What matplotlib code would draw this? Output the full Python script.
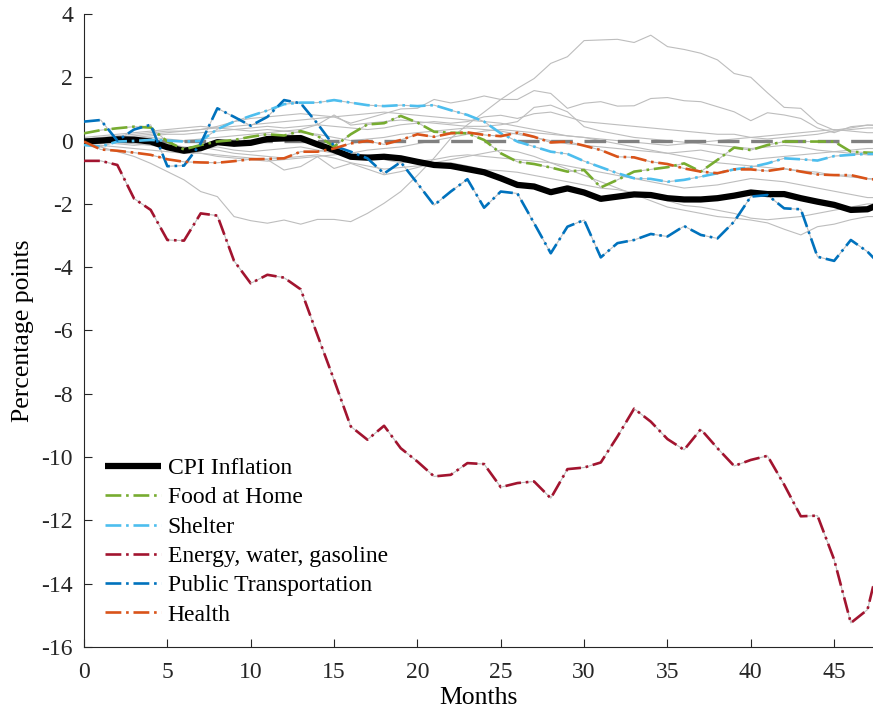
import matplotlib
matplotlib.use("Agg")
import matplotlib.pyplot as plt

plt.rcParams['font.family'] = ['Liberation Serif', 'DejaVu Serif']
plt.rcParams['axes.unicode_minus'] = False

months = list(range(49))

cpi = [-0.03, 0.0, 0.04, 0.03, -0.03, -0.21, -0.32, -0.24, -0.05, -0.10,
       -0.07, 0.05, 0.07, 0.08, -0.12, -0.30, -0.51, -0.54, -0.51, -0.56,
       -0.67, -0.77, -0.80, -0.90, -1.00, -1.19, -1.40, -1.45, -1.63, -1.51,
       -1.64, -1.84, -1.77, -1.70, -1.72, -1.82, -1.86, -1.86, -1.82, -1.74,
       -1.64, -1.69, -1.69, -1.82, -1.93, -2.03, -2.19, -2.17, -1.95]

food = [0.23, 0.33, 0.39, 0.44, 0.41, -0.03, -0.28, -0.14, -0.03, 0.02,
        0.12, 0.20, 0.16, 0.30, 0.15, -0.19, 0.20, 0.51, 0.55, 0.78,
        0.57, 0.28, 0.25, 0.23, 0.02, -0.40, -0.67, -0.74, -0.85, -0.98,
        -0.93, -1.48, -1.24, -0.98, -0.91, -0.84, -0.72, -0.98, -0.61, -0.22,
        -0.30, -0.14, -0.03, -0.03, -0.03, -0.03, -0.35, -0.38, -0.40]

shelter = [-0.14, -0.19, -0.03, -0.01, 0.02, 0.0, -0.03, -0.01, 0.36, 0.60,
           0.78, 0.95, 1.15, 1.20, 1.20, 1.28, 1.20, 1.12, 1.09, 1.12,
           1.09, 1.12, 0.96, 0.81, 0.60, 0.23, -0.03, -0.19, -0.35, -0.42,
           -0.65, -0.84, -1.03, -1.19, -1.21, -1.30, -1.24, -1.14, -1.03, -0.91,
           -0.84, -0.72, -0.56, -0.59, -0.63, -0.49, -0.45, -0.42, -0.42]

energy = [-0.64, -0.64, -0.77, -1.83, -2.19, -3.14, -3.16, -2.30, -2.37, -3.80,
          -4.51, -4.24, -4.33, -4.70, -6.14, -7.56, -9.03, -9.45, -9.01, -9.72,
          -10.14, -10.61, -10.56, -10.19, -10.22, -10.95, -10.82, -10.77, -11.30, -10.38,
          -10.33, -10.17, -9.35, -8.47, -8.88, -9.43, -9.77, -9.12, -9.72, -10.28,
          -10.09, -9.96, -10.87, -11.87, -11.85, -13.24, -15.24, -14.82, -12.65]

transport = [0.60, 0.65, 0.0, 0.35, 0.50, -0.81, -0.79, -0.09, 1.02, 0.75,
             0.47, 0.75, 1.28, 1.18, 0.54, -0.17, -0.35, -0.56, -1.04, -0.68,
             -1.35, -2.04, -1.61, -1.22, -2.12, -1.61, -1.67, -2.61, -3.56, -2.72,
             -2.51, -3.69, -3.24, -3.14, -2.95, -3.03, -2.70, -2.98, -3.09, -2.56,
             -1.77, -1.72, -2.14, -2.17, -3.67, -3.80, -3.14, -3.51, -4.05]

health = [-0.03, -0.28, -0.32, -0.38, -0.45, -0.59, -0.67, -0.69, -0.70, -0.65,
          -0.59, -0.58, -0.56, -0.35, -0.35, -0.25, -0.09, -0.01, -0.12, 0.02,
          0.20, 0.12, 0.23, 0.26, 0.18, 0.14, 0.25, 0.12, -0.06, -0.03,
          -0.16, -0.30, -0.51, -0.53, -0.67, -0.74, -0.88, -0.98, -1.03, -0.91,
          -0.91, -0.96, -0.88, -0.98, -1.07, -1.09, -1.09, -1.21, -1.25]

# other CPI components (thin gray lines)
other_components = [
    [-0.09, -0.20, -0.35, -0.50, -0.72, -0.98, -1.24, -1.61, -1.77, -2.40,
     -2.53, -2.61, -2.51, -2.64, -2.49, -2.49, -2.56, -2.30, -1.98, -1.61,
     -1.10, -0.55, 0.07, 0.50, 0.90, 1.30, 1.65, 1.96, 2.44, 2.65,
     3.16, 3.18, 3.20, 3.10, 3.33, 2.97, 2.88, 2.76, 2.55, 2.12,
     2.00, 1.51, 1.05, 1.02, 0.55, 0.33, 0.40, 0.49, 0.45],
    [0.00, 0.05, 0.10, 0.15, 0.20, 0.25, 0.30, 0.35, 0.45, 0.60,
     0.70, 0.75, 0.80, 0.85, 0.80, 0.75, 0.55, 0.70, 0.85, 1.00,
     1.02, 1.30, 1.19, 1.28, 1.41, 1.30, 1.30, 1.58, 1.49, 1.02,
     1.18, 1.23, 1.09, 1.10, 1.33, 1.36, 1.26, 1.23, 1.07, 0.91,
     0.63, 0.88, 0.81, 0.70, 0.40, 0.25, 0.44, 0.49, 0.50],
    [0.00, -0.05, -0.10, -0.15, -0.10, -0.20, -0.30, -0.40, -0.45, -0.50,
     -0.55, -0.60, -0.93, -0.82, -0.51, -0.88, -0.72, -0.90, -1.08, -0.98,
     -0.85, -0.70, -0.60, -0.50, -0.40, -0.30, -0.35, -0.50, -0.70, -0.90,
     -1.10, -1.30, -1.50, -1.70, -1.90, -2.10, -2.20, -2.30, -2.40, -2.45,
     -2.51, -2.60, -2.80, -2.98, -2.72, -2.64, -2.50, -2.40, -2.40],
    [0.00, 0.05, 0.10, 0.10, 0.15, 0.20, 0.20, 0.25, 0.30, 0.35,
     0.40, 0.45, 0.40, 0.45, 0.50, 0.45, 0.40, 0.35, 0.40, 0.50,
     0.55, 0.60, 0.55, 0.60, 0.75, 0.80, 0.70, 0.85, 0.90, 0.75,
     0.60, 0.55, 0.50, 0.45, 0.40, 0.35, 0.30, 0.25, 0.20, 0.20,
     0.10, 0.05, 0.10, 0.15, 0.20, 0.30, 0.35, 0.40, 0.40],
    [0.00, 0.00, -0.05, 0.05, 0.10, 0.05, 0.00, 0.05, 0.10, 0.15,
     0.20, 0.25, 0.30, 0.35, 0.50, 0.81, 0.49, 0.55, 0.60, 0.65,
     0.60, 0.55, 0.50, 0.45, 0.45, 0.50, 0.60, 1.05, 1.12, 0.91,
     0.44, 0.30, 0.20, 0.10, 0.05, 0.00, -0.05, -0.10, -0.15, -0.20,
     -0.25, -0.20, -0.15, -0.20, -0.30, -0.35, -0.40, -0.45, -0.45],
    [-0.10, -0.15, -0.20, -0.25, -0.30, -0.35, -0.40, -0.40, -0.50, -0.55,
     -0.60, -0.65, -0.60, -0.55, -0.50, -0.45, -0.40, -0.30, -0.25, -0.20,
     -0.10, 0.00, 0.10, 0.20, 0.30, 0.35, 0.30, 0.25, 0.20, 0.15,
     0.10, 0.00, -0.10, -0.20, -0.30, -0.40, -0.50, -0.60, -0.70, -0.75,
     -0.80, -0.85, -0.90, -0.95, -1.00, -1.10, -1.15, -1.20, -1.20],
    [0.05, 0.10, 0.15, 0.20, 0.25, 0.30, 0.30, 0.35, 0.40, 0.35,
     0.30, 0.35, 0.30, 0.25, 0.20, 0.10, 0.00, 0.05, 0.10, 0.20,
     0.25, 0.30, 0.35, 0.40, 0.35, 0.30, 0.20, 0.10, 0.00, -0.10,
     -0.15, -0.20, -0.25, -0.30, -0.35, -0.40, -0.35, -0.30, -0.40, -0.50,
     -0.60, -0.55, -0.50, -0.45, -0.40, -0.35, -0.30, -0.25, -0.25],
    [-0.05, -0.10, -0.05, 0.00, -0.05, -0.10, -0.20, -0.25, -0.20, -0.30,
     -0.35, -0.30, -0.25, -0.20, -0.30, -0.40, -0.50, -0.45, -0.60, -0.70,
     -0.65, -0.60, -0.50, -0.45, -0.50, -0.55, -0.60, -0.65, -0.70, -0.80,
     -0.90, -1.00, -1.10, -1.20, -1.30, -1.40, -1.50, -1.45, -1.40, -1.30,
     -1.20, -1.25, -1.30, -1.40, -1.50, -1.60, -1.70, -1.80, -1.80],
    [0.10, 0.15, 0.20, 0.25, 0.30, 0.35, 0.40, 0.45, 0.40, 0.45,
     0.50, 0.55, 0.60, 0.65, 0.70, 0.75, 0.80, 0.85, 0.90, 0.85,
     0.80, 0.75, 0.70, 0.65, 0.60, 0.55, 0.45, 0.35, 0.25, 0.15,
     0.10, 0.05, 0.00, -0.05, -0.10, -0.15, -0.10, -0.05, 0.00, 0.05,
     0.10, 0.15, 0.20, 0.25, 0.30, 0.35, 0.30, 0.25, 0.25],
    [0.00, -0.05, -0.05, -0.10, -0.15, -0.20, -0.25, -0.20, -0.30, -0.40,
     -0.45, -0.50, -0.55, -0.50, -0.45, -0.55, -0.70, -0.80, -0.90, -0.85,
     -0.80, -0.75, -0.70, -0.80, -0.92, -0.95, -1.00, -1.10, -1.20, -1.30,
     -1.40, -1.50, -1.55, -1.65, -1.75, -1.90, -2.05, -2.10, -2.20, -2.30,
     -2.45, -2.50, -2.45, -2.40, -2.30, -2.20, -2.10, -2.00, -2.00],
]

labels = ["CPI Inflation", "Food at Home", "Shelter", "Energy, water, gasoline",
          "Public Transportation", "Health"]
colors = ["#000000", "#77AC30", "#4DBEEE", "#A2142F", "#0072BD", "#D95319"]

fig = plt.figure(figsize=(8.73, 7.13), dpi=100)
ax = fig.add_axes([84/873, 66/713, 789/873, 633/713])

gray = "#BDBDBD"
for s in other_components + [food, shelter, energy, transport, health]:
    ax.plot(months[:len(s)], s, color=gray, lw=0.8, zorder=1)

ax.axhline(0, color="#808080", lw=2.4, ls=(0, (6.5, 3.5)), zorder=2)

ax.plot(months[:len(cpi)], cpi, color=colors[0], lw=4.5, label=labels[0], zorder=3,
        solid_capstyle='butt')
dashdot = (0, (6, 1.8, 1, 1.8))
for s, lab, c in zip([food, shelter, energy, transport, health], labels[1:], colors[1:]):
    ax.plot(months[:len(s)], s, color=c, lw=1.9, ls=dashdot, label=lab, zorder=4)

ax.set_xlim(0, 47.33)
ax.set_ylim(-16, 4)
ax.set_xticks(range(0, 46, 5))
ax.set_yticks(range(-16, 5, 2))
ax.spines['top'].set_visible(False)
ax.spines['right'].set_visible(False)
for sp in ('left', 'bottom'):
    ax.spines[sp].set_color('#262626')
    ax.spines[sp].set_linewidth(0.8)
ax.tick_params(direction='in', length=6, width=0.8, color='#262626',
               labelsize=17, labelcolor='#262626')
ax.tick_params(axis='x', pad=11)
ax.tick_params(axis='y', pad=8)
ax.set_xlabel("Months", fontsize=18.5, labelpad=3)
ax.set_ylabel("Percentage points", fontsize=18.5, labelpad=5)

leg = ax.legend(loc='lower left', bbox_to_anchor=(0.0, 0.0), frameon=False,
                fontsize=17, handlelength=2.35, handletextpad=0.3,
                labelspacing=0.33, borderpad=0.45, borderaxespad=0.45)

fig.savefig("out.png", dpi=100)
